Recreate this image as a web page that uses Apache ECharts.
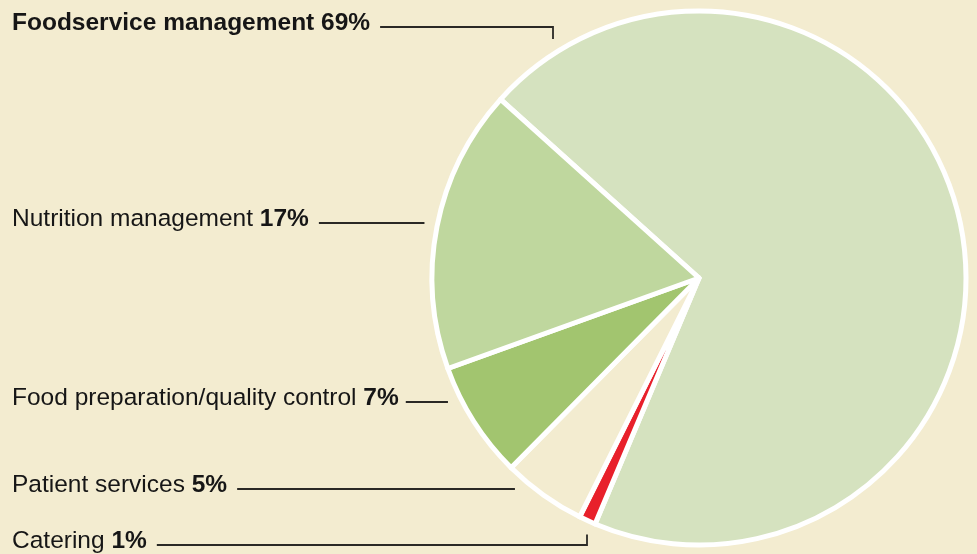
<!DOCTYPE html>
<html>
<head>
<meta charset="utf-8">
<script src="https://cdn.jsdelivr.net/npm/echarts@6/dist/echarts.min.js"></script>
<style>
  html, body { margin: 0; padding: 0; background: #f3ecd0; }
  #main { width: 977px; height: 554px; }
</style>
</head>
<body>
<div id="main"></div>
<script>
var myChart = echarts.init(document.getElementById('main'));

// data
var categories = ['Foodservice management', 'Catering', 'Patient services', 'Food preparation/quality control', 'Nutrition management'];
var shares = [69, 1, 5, 7, 17];
var sliceColors = ['#d5e2bf', '#e8202b', '#f3ecd0', '#a2c56f', '#bfd79e'];

// label layout (pixels)
var cx = 699, cy = 278, r = 267;
var lineY = [27, 545, 489, 402, 223];
var elbowX = [553, 587, null, null, null];
var lineGap = [10, 10, 10, 7, 10];
var reach = r + 13;
var font = 'Liberation Sans, Arial, sans-serif';

var pieData = categories.map(function (name, i) {
  return { name: name, value: shares[i], itemStyle: { color: sliceColors[i] } };
});

option = {
  animation: false,
  backgroundColor: '#f3ecd0',
  series: [
    {
      type: 'pie',
      center: [cx, cy],
      radius: r,
      startAngle: 138,
      clockwise: true,
      avoidLabelOverlap: false,
      itemStyle: {
        borderColor: '#ffffff',
        borderWidth: 5
      },
      emphasis: { disabled: true },
      label: {
        show: true,
        position: 'outside',
        fontFamily: font,
        fontSize: 24.5,
        color: '#161616',
        formatter: function (p) {
          if (p.dataIndex === 0) {
            return '{b|' + p.name + ' ' + p.value + '%}';
          }
          return '{n|' + p.name + ' }{b|' + p.value + '%}';
        },
        rich: {
          n: { fontSize: 24.5, fontFamily: font, color: '#161616' },
          b: { fontSize: 24.5, fontFamily: font, fontWeight: 'bold', color: '#161616' }
        }
      },
      labelLine: {
        show: true,
        lineStyle: { color: '#2a2925', width: 1.8 }
      },
      labelLayout: function (p) {
        var i = p.dataIndex;
        var y = lineY[i];
        var x0 = 12 + p.labelRect.width + lineGap[i];
        var pts;
        if (elbowX[i] != null) {
          var ex = elbowX[i];
          var dy = Math.sqrt(reach * reach - (ex - cx) * (ex - cx));
          var ey = y < cy ? cy - dy : cy + dy;
          pts = [[ex, ey], [ex, y], [x0, y]];
        } else {
          var dx = Math.sqrt(reach * reach - (y - cy) * (y - cy));
          var endX = cx - dx;
          pts = [[endX, y], [(endX + x0) / 2, y], [x0, y]];
        }
        return {
          x: 12,
          y: y - 4,
          align: 'left',
          verticalAlign: 'middle',
          labelLinePoints: pts
        };
      },
      data: pieData
    }
  ]
};

myChart.setOption(option);
</script>
</body>
</html>
